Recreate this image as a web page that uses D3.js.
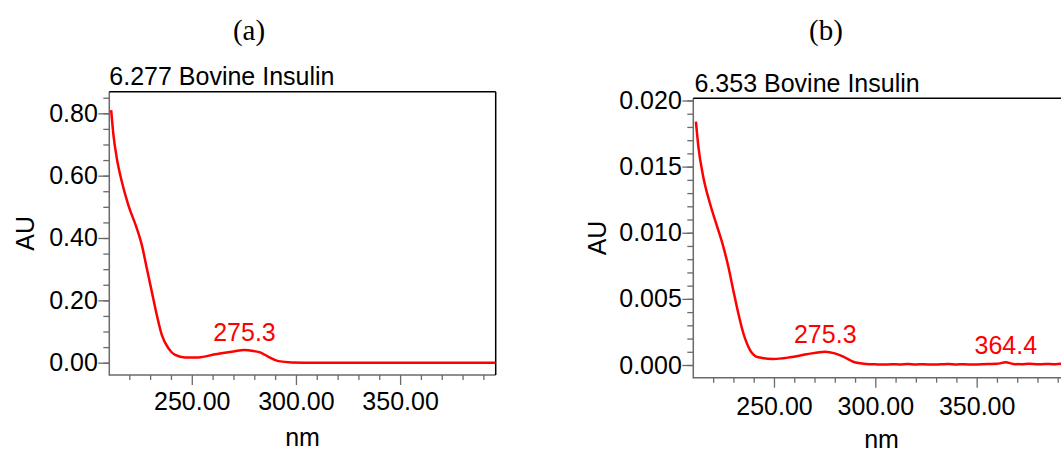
<!DOCTYPE html>
<html>
<head>
<meta charset="utf-8">
<script src="https://cdn.jsdelivr.net/npm/d3@7/dist/d3.min.js"></script>
<style>
  html, body { margin: 0; padding: 0; background: #fff; }
  svg { display: block; }
  .sans { font-family: "Liberation Sans", Arial, sans-serif; }
  .serif { font-family: "Liberation Serif", "Times New Roman", serif; }
</style>
</head>
<body>
<svg id="chart" width="1061" height="452"></svg>
<script>
// UV spectra of the bovine insulin peak, two runs

// Panel (a): peak at 6.277 min
const wavelengthsA = [211.3, 212.4, 214.0, 216.4, 219.5, 223.6, 226.0, 228.4, 230.8, 233.2,
  235.6, 238.8, 242.0, 246.8, 253.2, 261.2, 269.2, 275.3, 280.0, 282.8, 286.8, 291.6, 298.0, 310.0, 396.0];
const absorbanceA = [0.810, 0.730, 0.656, 0.581, 0.506, 0.431, 0.378, 0.303, 0.228, 0.153,
  0.089, 0.046, 0.025, 0.017, 0.017, 0.027, 0.035, 0.041, 0.037, 0.033, 0.019, 0.005, 0.001, 0.000, 0.000];
const peaksA = [275.3];
const yTicksA = [0.00, 0.20, 0.40, 0.60, 0.80];

// Panel (b): peak at 6.353 min
const wavelengthsB = [211.5, 212.7, 215.1, 218.4, 221.7, 225.0, 227.5, 229.9, 232.4, 234.9,
  238.2, 242.3, 249.7, 257.9, 266.1, 275.3, 280.0, 284.2, 289.1, 295.7,
  300, 304, 308, 312, 316, 320, 324, 328, 332, 336, 340, 344, 348, 352, 356, 360,
  364.4, 368, 372, 376, 380, 384, 388, 392, 396];
const absorbanceB = [0.01840, 0.01651, 0.01424, 0.01223, 0.01059, 0.00895, 0.00743, 0.00567, 0.00391, 0.00240,
  0.00113, 0.00058, 0.00045, 0.00058, 0.00081, 0.00101, 0.00088, 0.00063, 0.00025, 0.00008,
  0.00005, 0.00003, 0.00006, 0.00004, 0.00007, 0.00004, 0.00006, 0.00003, 0.00005, 0.00008,
  0.00004, 0.00006, 0.00003, 0.00005, 0.00007, 0.00009,
  0.00020, 0.00008, 0.00006, 0.00009, 0.00005, 0.00008, 0.00006, 0.00009, 0.00007];
const peaksB = [275.3, 364.4];
const yTicksB = [0.000, 0.005, 0.010, 0.015, 0.020];

// Shared wavelength ticks
const xMajorTicks = [250, 300, 350];
const xMinorTicks = [220, 230, 240, 260, 270, 280, 290, 310, 320, 330, 340, 360, 370, 380, 390];

const panels = [
  {
    letter: "(a)", letterX: 249, title: "6.277 Bovine Insulin",
    left: 109.3, right: 495.7, top: 91.7, bottom: 375,
    xDomain: [210.4, 395.9], yDomain: [-0.03946, 0.86929],
    wl: wavelengthsA, au: absorbanceA, peaks: peaksA,
    yTicks: yTicksA, yMinorStep: 0.05, yMinorMax: 0.85, yFormat: ".2f",
    auX: 25, titleX: 109.3, xLabelPad: 7, nmY: 446
  },
  {
    letter: "(b)", letterX: 826, title: "6.353 Bovine Insulin",
    left: 693.3, right: 1069.9, top: 98.3, bottom: 377.7,
    xDomain: [210.2, 396.0], yDomain: [-0.00096, 0.020166],
    wl: wavelengthsB, au: absorbanceB, peaks: peaksB,
    yTicks: yTicksB, yMinorStep: 0.001, yMinorMax: 0.020, yFormat: ".3f",
    auX: 597, titleX: 694.5, xLabelPad: 10, nmY: 447.5
  }
];

const svg = d3.select("#chart");
const axisGrey = "#6a6a6a";
const fontSize = 25;

panels.forEach((p, i) => {
  const g = svg.append("g");
  const x = d3.scaleLinear().domain(p.xDomain).range([p.left, p.right]);
  const y = d3.scaleLinear().domain(p.yDomain).range([p.bottom, p.top]);

  // Panel letter and spectrum title
  g.append("text").attr("class", "serif")
    .attr("x", p.letterX).attr("y", 40)
    .attr("text-anchor", "middle").attr("font-size", 29)
    .text(p.letter);
  g.append("text").attr("class", "sans")
    .attr("x", p.titleX).attr("y", p.top - 6.7)
    .attr("font-size", fontSize).attr("fill", "#000")
    .text(p.title);

  // Minor y ticks
  const nMinor = Math.round(p.yMinorMax / p.yMinorStep);
  const yMinor = d3.range(0, nMinor + 1).map(k => +(k * p.yMinorStep).toFixed(6));
  g.append("g").attr("transform", `translate(${p.left},0)`)
    .call(d3.axisLeft(y).tickValues(yMinor).tickSize(6).tickFormat(""))
    .call(a => a.select(".domain").remove())
    .call(a => a.selectAll("line").attr("stroke", axisGrey).attr("stroke-width", 1.3));

  // Major y ticks with labels
  g.append("g").attr("transform", `translate(${p.left},0)`)
    .call(d3.axisLeft(y).tickValues(p.yTicks).tickSize(11).tickPadding(0.5).tickFormat(d3.format(p.yFormat)))
    .call(a => a.select(".domain").remove())
    .call(a => a.selectAll("line").attr("stroke", axisGrey).attr("stroke-width", 1.3))
    .call(a => a.selectAll("text").attr("class", "sans").attr("font-size", fontSize).attr("fill", "#000"));

  // Minor x ticks
  g.append("g").attr("transform", `translate(0,${p.bottom})`)
    .call(d3.axisBottom(x).tickValues(xMinorTicks).tickSize(5).tickFormat(""))
    .call(a => a.select(".domain").remove())
    .call(a => a.selectAll("line").attr("stroke", axisGrey).attr("stroke-width", 1.3));

  // Major x ticks with labels
  g.append("g").attr("transform", `translate(0,${p.bottom})`)
    .call(d3.axisBottom(x).tickValues(xMajorTicks).tickSize(10).tickPadding(p.xLabelPad).tickFormat(d3.format(".2f")))
    .call(a => a.select(".domain").remove())
    .call(a => a.selectAll("line").attr("stroke", axisGrey).attr("stroke-width", 1.3))
    .call(a => a.selectAll("text").attr("class", "sans").attr("font-size", fontSize).attr("fill", "#000"));

  // Plot frame: grey left/bottom axis lines, black top/right border
  g.append("line").attr("x1", p.left).attr("x2", p.left).attr("y1", p.top).attr("y2", p.bottom + 0.75)
    .attr("stroke", axisGrey).attr("stroke-width", 1.5);
  g.append("line").attr("x1", p.left).attr("x2", p.right).attr("y1", p.bottom).attr("y2", p.bottom)
    .attr("stroke", axisGrey).attr("stroke-width", 1.5);
  g.append("line").attr("x1", p.left).attr("x2", p.right).attr("y1", p.top).attr("y2", p.top)
    .attr("stroke", "#000").attr("stroke-width", 1.5);
  g.append("line").attr("x1", p.right).attr("x2", p.right).attr("y1", p.top).attr("y2", p.bottom)
    .attr("stroke", "#000").attr("stroke-width", 1.5);

  // Axis titles
  g.append("text").attr("class", "sans")
    .attr("x", (p.left + p.right) / 2).attr("y", p.nmY)
    .attr("text-anchor", "middle").attr("font-size", fontSize)
    .text("nm");
  const cy = (p.top + p.bottom) / 2;
  g.append("text").attr("class", "sans")
    .attr("transform", `translate(${p.auX},${cy}) rotate(-90)`)
    .attr("text-anchor", "middle").attr("dy", "0.35em").attr("font-size", fontSize)
    .text("AU");

  // Spectrum trace
  const clipId = "clip" + i;
  svg.append("clipPath").attr("id", clipId)
    .append("rect").attr("x", p.left).attr("y", p.top)
    .attr("width", p.right - p.left).attr("height", p.bottom - p.top);
  const pts = p.wl.map((w, k) => [w, p.au[k]]);
  const line = d3.line().x(d => x(d[0])).y(d => y(d[1])).curve(d3.curveMonotoneX);
  g.append("path").datum(pts)
    .attr("clip-path", `url(#${clipId})`)
    .attr("d", line)
    .attr("fill", "none").attr("stroke", "#ff0000").attr("stroke-width", 2.5)
    .attr("stroke-linejoin", "round");

  // Peak wavelength labels
  p.peaks.forEach(pk => {
    const k = p.wl.indexOf(pk);
    g.append("text").attr("class", "sans")
      .attr("x", x(pk)).attr("y", y(p.au[k]) - 8.5)
      .attr("text-anchor", "middle").attr("font-size", fontSize)
      .attr("fill", "#ff0000")
      .text(d3.format(".1f")(pk));
  });
});
</script>
</body>
</html>
